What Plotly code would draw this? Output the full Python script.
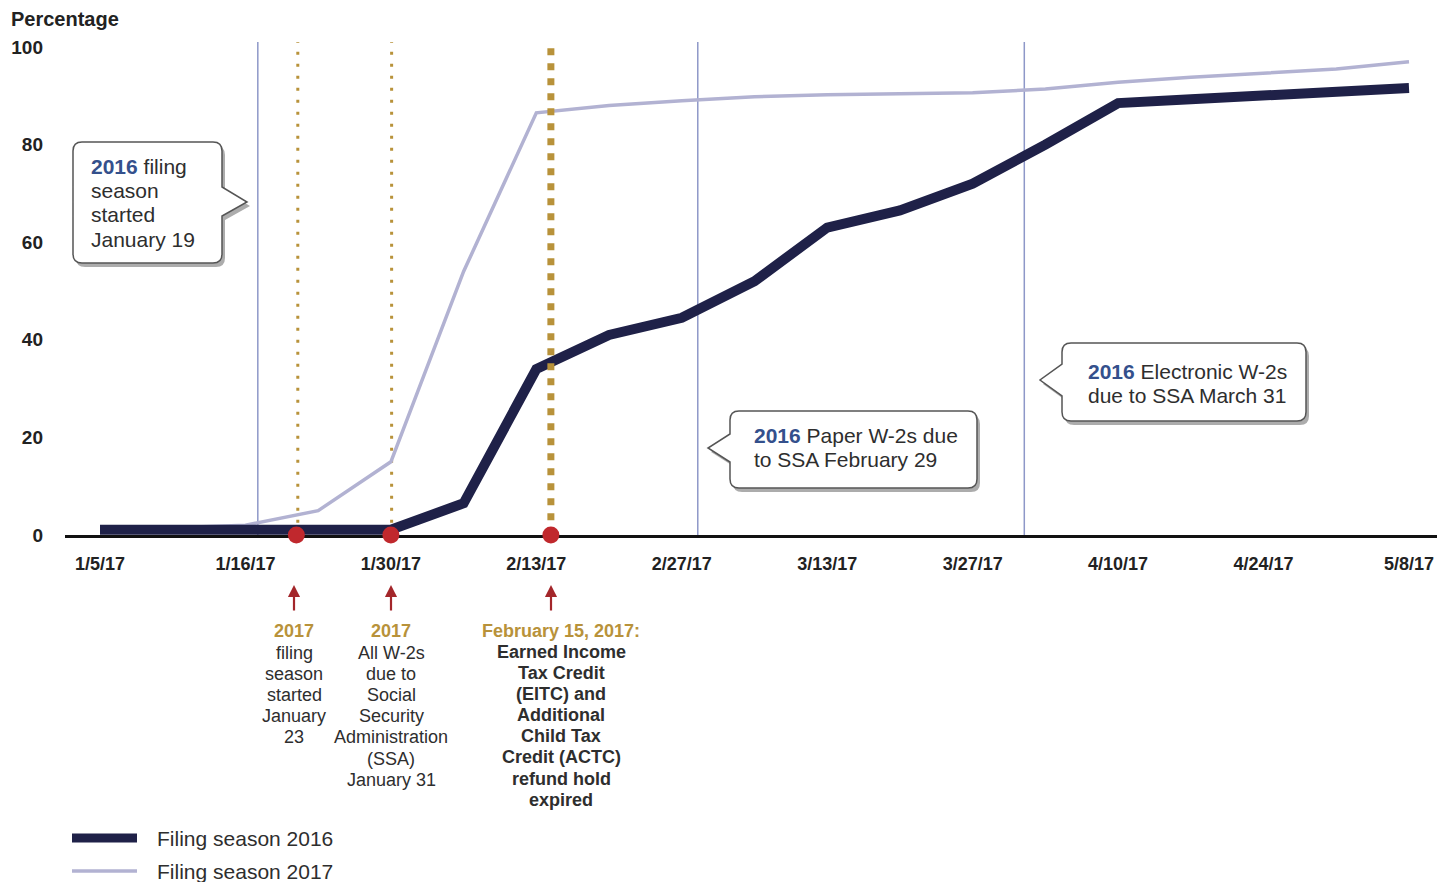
import plotly.graph_objects as go

# ---------------- data ----------------
week_index = list(range(19))
tick_index = [0, 2, 4, 6, 8, 10, 12, 14, 16, 18]
tick_labels = ["1/5/17", "1/16/17", "1/30/17", "2/13/17", "2/27/17",
               "3/13/17", "3/27/17", "4/10/17", "4/24/17", "5/8/17"]
season_2016 = [1.1, 1.1, 1.1, 1.1, 1.1, 6.5, 34, 41, 44.5, 52, 63, 66.5, 72,
               80, 88.5, 89.3, 90, 90.6, 91.6]
season_2017 = [1.4, 1.5, 2, 5, 15, 54, 86.5, 88, 89, 89.8, 90.2, 90.4, 90.6,
               91.4, 92.8, 93.8, 94.7, 95.5, 97]
y_ticks = [0, 20, 40, 60, 80, 100]

# event positions (in week-index units)
blue_event_x = [2.17, 8.22, 12.71]
gold_thin_event_x = [2.72, 4.01]
gold_thick_event_x = [6.2]
red_dot_x = [2.7, 4.0, 6.2]

# ---------------- layout geometry ----------------
W, H = 1455, 882
L, R, T, B = 65, 18, 38, 347
PW = W - L - R
PH = H - T - B
AXIS_Y = T + PH  # pixel y of the zero line
X_PX0, X_PX18 = 100, 1409
XS = (X_PX18 - X_PX0) / 18.0
x_range = [(L - X_PX0) / XS, (W - R - X_PX0) / XS]
YS = (AXIS_Y - 47) / 100.0
y_range = [0, (AXIS_Y - T) / YS]

FONT = "Liberation Sans, Arial, sans-serif"
DARK = "#1f2148"
LIGHT = "#b2b2d2"
BLUE = "#8e98c8"
GOLD = "#b8923a"
RED = "#c0282d"
ARROW = "#a3262a"
TXT = "#2e2e2e"
BLUE_TXT = "#34508c"


def px(x):
    return (x - L) / PW


def py(y):
    return (AXIS_Y - y) / PH


fig = go.Figure()

fig.add_trace(go.Scatter(x=week_index, y=season_2017, mode="lines",
                         line=dict(color=LIGHT, width=3.5),
                         name="Filing season 2017", showlegend=False,
                         cliponaxis=False))
fig.add_trace(go.Scatter(x=week_index, y=season_2016, mode="lines",
                         line=dict(color=DARK, width=10),
                         name="Filing season 2016", showlegend=False,
                         cliponaxis=False))
fig.add_trace(go.Scatter(x=red_dot_x, y=[0] * len(red_dot_x), mode="markers",
                         marker=dict(color=RED, size=17),
                         showlegend=False, cliponaxis=False, hoverinfo="skip"))

shapes = []
for xv in blue_event_x:
    shapes.append(dict(type="line", xref="x", yref="y", x0=xv, x1=xv,
                       y0=0, y1=101, layer="below",
                       line=dict(color=BLUE, width=1.5)))
for xv in gold_thin_event_x:
    shapes.append(dict(type="line", xref="x", yref="y", x0=xv, x1=xv,
                       y0=2.5, y1=101, layer="below",
                       line=dict(color=GOLD, width=3, dash="3px,9px")))
for xv in gold_thick_event_x:
    shapes.append(dict(type="line", xref="x", yref="y", x0=xv, x1=xv,
                       y0=3, y1=101, layer="above",
                       line=dict(color=GOLD, width=7, dash="7px,8px")))


def callout_path(x0, y0, x1, y1, side, tip, ty0, ty1, r=9, dx=0, dy=0):
    x0 += dx; x1 += dx; y0 += dy; y1 += dy
    tip = (tip[0] + dx, tip[1] + dy); ty0 += dy; ty1 += dy
    pts = []

    def P(cmd, *xy):
        s = cmd
        for i in range(0, len(xy), 2):
            s += " %.5f,%.5f" % (px(xy[i]), py(xy[i + 1]))
        pts.append(s)

    P("M", x0 + r, y0)
    P("L", x1 - r, y0)
    P("Q", x1, y0, x1, y0 + r)
    if side == "right":
        P("L", x1, ty0)
        P("L", tip[0], tip[1])
        P("L", x1, ty1)
    P("L", x1, y1 - r)
    P("Q", x1, y1, x1 - r, y1)
    P("L", x0 + r, y1)
    P("Q", x0, y1, x0, y1 - r)
    if side == "left":
        P("L", x0, ty1)
        P("L", tip[0], tip[1])
        P("L", x0, ty0)
    P("L", x0, y0 + r)
    P("Q", x0, y0, x0 + r, y0)
    return " ".join(pts) + " Z"


callouts = [
    (73, 142, 222, 263, "right", (247, 202), 187, 216),
    (730, 411, 977, 488, "left", (708, 448), 434, 462),
    (1062, 343, 1306, 421, "left", (1040, 380), 364, 396),
]
for c in callouts:
    shapes.append(dict(type="path", xref="paper", yref="paper", layer="above",
                       path=callout_path(*c, dx=3, dy=4),
                       fillcolor="rgba(70,70,70,0.45)", line=dict(width=0)))
    shapes.append(dict(type="path", xref="paper", yref="paper", layer="above",
                       path=callout_path(*c),
                       fillcolor="white", line=dict(color="#555555", width=1.5)))

# manual legend samples
shapes.append(dict(type="line", xref="paper", yref="paper",
                   x0=px(72), x1=px(137), y0=py(838), y1=py(838),
                   line=dict(color=DARK, width=9)))
shapes.append(dict(type="line", xref="paper", yref="paper",
                   x0=px(72), x1=px(137), y0=py(871), y1=py(871),
                   line=dict(color=LIGHT, width=3.5)))

annotations = []


def text(x, y, s, size=19, color=TXT, anchor="left", bold=False):
    annotations.append(dict(xref="paper", yref="paper", x=px(x), y=py(y),
                            text=s, showarrow=False, xanchor=anchor,
                            yanchor="middle",
                            font=dict(family=FONT, size=size, color=color,
                                      weight="bold" if bold else "normal")))


B16 = "<b><span style='color:%s'>2016</span></b>" % BLUE_TXT

text(9, 19, "Percentage", size=20, bold=True, color="#222222")

# callout texts
for i, s in enumerate([B16 + " filing", "season", "started", "January 19"]):
    text(89, 166 + i * 24.4, s, size=21)
for i, s in enumerate([B16 + " Paper W-2s due", "to SSA February 29"]):
    text(752, 435 + i * 24.5, s, size=21)
for i, s in enumerate([B16 + " Electronic W-2s", "due to SSA March 31"]):
    text(1086, 371 + i * 24.5, s, size=21)

# bottom event notes
LS = 21.1
note1 = ["filing", "season", "started", "January", "23"]
note2 = ["All W-2s", "due to", "Social", "Security", "Administration",
         "(SSA)", "January 31"]
note3 = ["Earned Income", "Tax Credit", "(EITC) and", "Additional",
         "Child Tax", "Credit (ACTC)", "refund hold", "expired"]
text(294, 631, "2017", size=18, color=GOLD, anchor="center", bold=True)
for i, s in enumerate(note1):
    text(294, 653 + i * LS, s, size=18, anchor="center")
text(391, 631, "2017", size=18, color=GOLD, anchor="center", bold=True)
for i, s in enumerate(note2):
    text(391, 653 + i * LS, s, size=18, anchor="center")
text(561, 631, "February 15, 2017:", size=18, color=GOLD, anchor="center",
     bold=True)
for i, s in enumerate(note3):
    text(561, 652 + i * LS, s, size=18, anchor="center", bold=True)

# arrows
for xa in [294, 391, 551]:
    annotations.append(dict(xref="paper", yref="paper", x=px(xa), y=py(585),
                            ax=0, ay=27, text="", showarrow=True,
                            arrowhead=2, arrowsize=1.1, arrowwidth=2.2,
                            arrowcolor=ARROW))

# legend texts
text(155, 838, "Filing season 2016", size=21)
text(155, 871, "Filing season 2017", size=21)

fig.update_layout(
    width=W, height=H,
    margin=dict(l=L, r=R, t=T, b=B),
    paper_bgcolor="white", plot_bgcolor="white",
    shapes=shapes, annotations=annotations,
    showlegend=False,
    xaxis=dict(range=x_range, tickvals=tick_index, ticktext=tick_labels,
               showgrid=False, zeroline=False, showline=True,
               linecolor="#111111", linewidth=3, ticks="",
               ticklabelstandoff=10, layer="below traces",
               tickfont=dict(family=FONT, size=18, color="#222222",
                             weight="bold")),
    yaxis=dict(range=y_range, tickvals=y_ticks, showgrid=False,
               zeroline=False, showline=False, ticks="",
               ticklabelstandoff=21,
               tickfont=dict(family=FONT, size=19, color="#222222",
                             weight="bold")),
)

fig.write_html("out.html",
               config={"displayModeBar": False},
               post_script="document.body.style.margin='0';"
                           "document.body.style.overflow='hidden';")
